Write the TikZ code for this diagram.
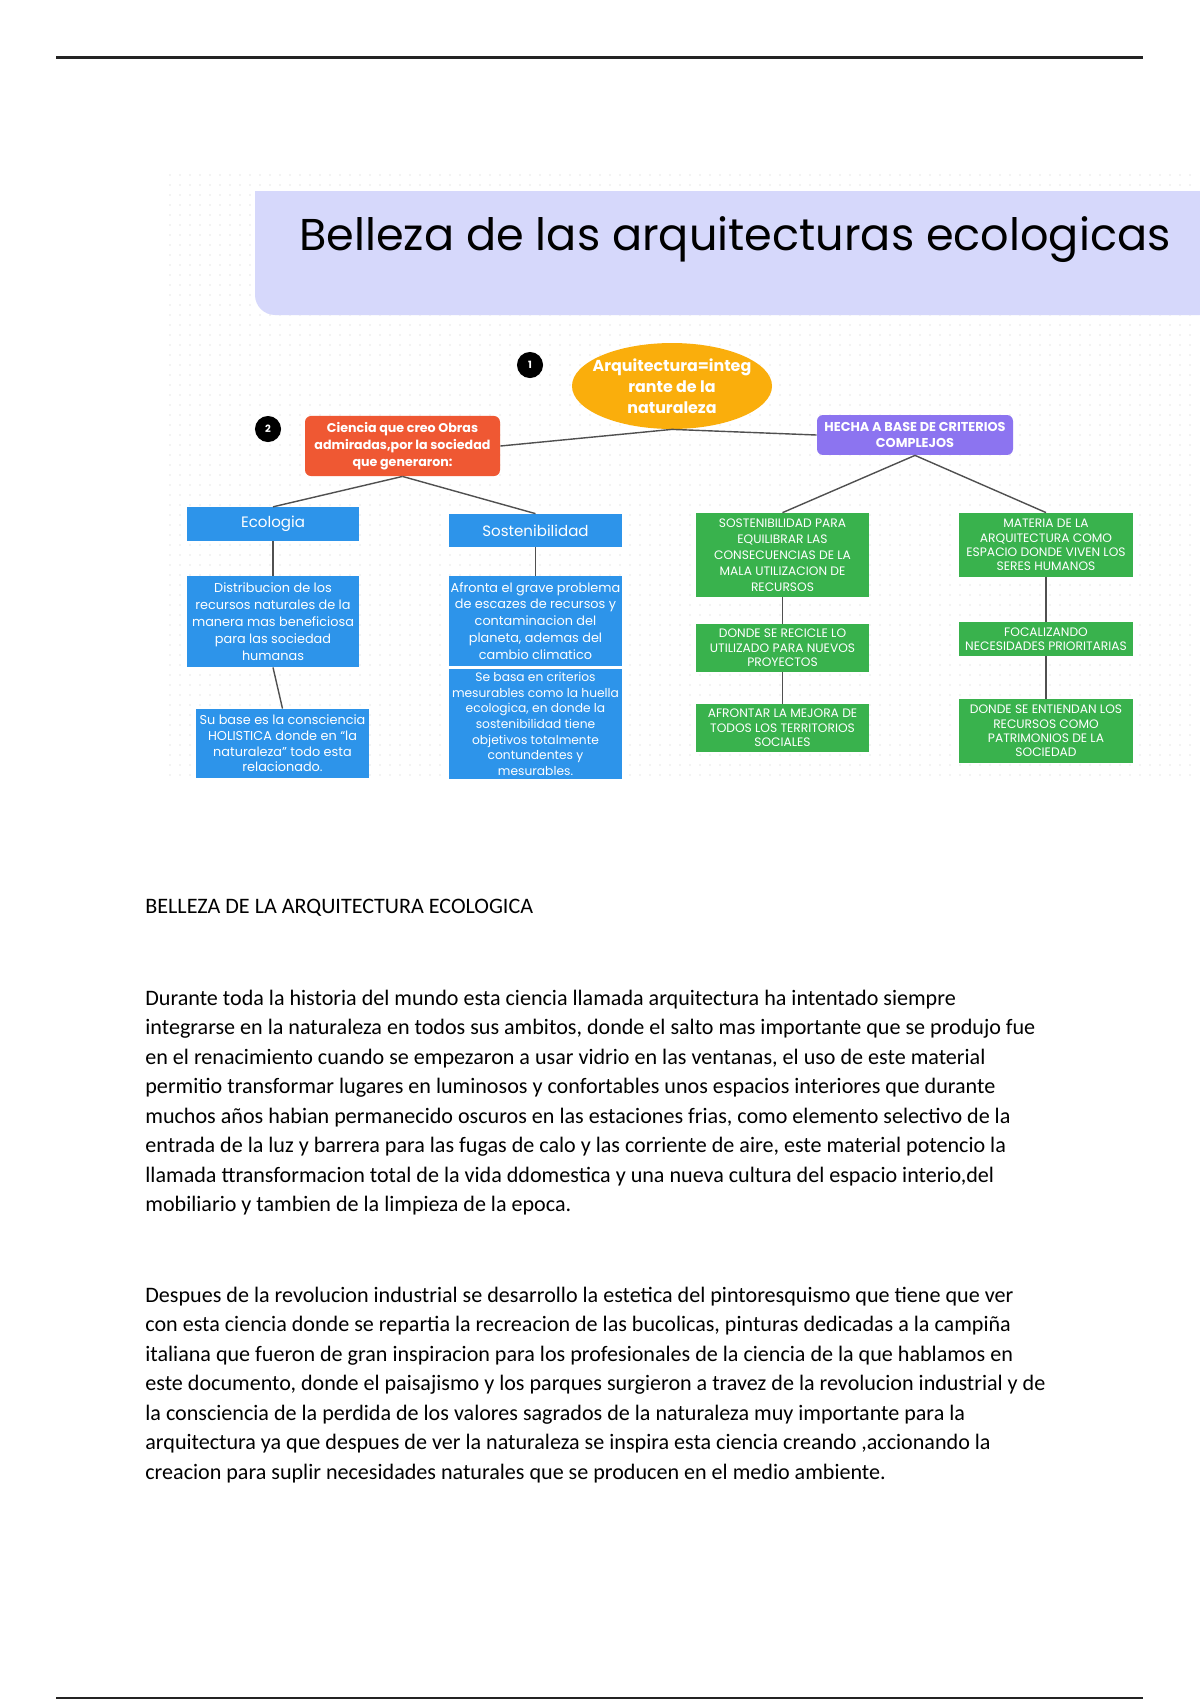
\documentclass[tikz,border=0pt]{standalone}
\usepackage{fontspec}
\setmainfont{Carlito}
\newfontfamily\mapafont{Poppins}
\usetikzlibrary{
  shapes.geometric,
  positioning
}
\definecolor{Lavanda}{RGB}{214, 216, 251}
\definecolor{Naranja}{RGB}{250, 174, 12}
\definecolor{Rojo}{RGB}{239, 88, 51}
\definecolor{Morado}{RGB}{140, 116, 240}
\definecolor{AzulMapa}{RGB}{45, 148, 234}
\definecolor{VerdeMapa}{RGB}{57, 178, 77}
\definecolor{GrisLinea}{RGB}{80, 80, 80}
\definecolor{Regla}{RGB}{35, 35, 35}
\tikzset{
    caja/.style={rectangle, inner sep=0pt, align=center, text=white},
    azul/.style={caja, fill=AzulMapa, minimum width=86.1pt, font=\mapafont\fontsize{6.4}{8.4}\selectfont},
    azultitulo/.style={caja, fill=AzulMapa, minimum width=86.1pt, minimum height=16.7pt,
        font=\mapafont\fontsize{7.5}{9}\selectfont},
    verde/.style={caja, fill=VerdeMapa, minimum width=86.3pt, font=\mapafont\fontsize{6.1}{7.2}\selectfont},
    enlace/.style={draw=GrisLinea, line width=0.7pt},
    numero/.style={circle, fill=black, text=white, inner sep=0pt, minimum size=13pt,
        font=\mapafont\bfseries\fontsize{5}{5}\selectfont}
}

\begin{document}
\begin{tikzpicture}[x=0.0175cm, y=-0.0175cm]
    \useasboundingbox (0,0) rectangle (1200,1700);
    \fill[white] (0,0) rectangle (1200,1700);
    % page rules
    \draw[line width=1.2pt, Regla] (56,57.5) -- (1143,57.5);
    \draw[line width=1.2pt, Regla] (56,1698) -- (1143,1698);

    \begin{scope}
    \clip (0,0) rectangle (1200,779);
    % dotted canvas of the map
    \foreach \x in {170,180,...,1190}
        \foreach \y in {175,185,...,775}
            \fill[black!9] (\x,\y) circle (0.45pt);
    % title band
    \fill[Lavanda] (1200,191) -- (255,191) [rounded corners=10pt] -- (255,315) [sharp corners] -- (1200,315) -- cycle;
    \node[anchor=base west, inner sep=0pt, font=\mapafont\fontsize{22.2}{26}\selectfont] (titulo) at (299,250)
        {Belleza de las arquitecturas ecologicas};

    % map
    \node[ellipse, fill=Naranja, minimum width=99.6pt, minimum height=42.8pt, inner sep=0pt] (arq) at (672,386) {};
    \node[align=center, inner sep=0pt, text=white, font=\mapafont\bfseries\fontsize{7.9}{10.5}\selectfont]
        (arqtexto) at (arq.center) {Arquitectura=integ\\rante de la\\naturaleza};
    \node[numero] (uno) at (530,365) {1};
    \node[numero] (dos) at (268,429) {2};
    \node[caja, fill=Rojo, rounded corners=3pt, minimum width=97.1pt, minimum height=29.9pt,
        font=\mapafont\bfseries\fontsize{6.3}{8.5}\selectfont] (ciencia) at (402.5,446)
        {Ciencia que creo Obras\\admiradas,por la sociedad\\que generaron:};
    \node[caja, fill=Morado, rounded corners=3pt, minimum width=97.6pt, minimum height=19.9pt,
        font=\mapafont\bfseries\fontsize{6.4}{7.8}\selectfont] (hecha) at (915,435)
        {HECHA A BASE DE CRITERIOS\\COMPLEJOS};

    \node[azultitulo] (eco) at (273,524) {Ecologia};
    \node[azultitulo, minimum height=16.4pt] (sost) at (535.5,530.5) {Sostenibilidad};
    \node[azul, minimum height=45.3pt] (ecoA) at (273,621.5)
        {Distribucion de los\\recursos naturales de la\\manera mas beneficiosa\\para las sociedad\\humanas};
    \node[azul, minimum height=34.4pt, font=\mapafont\fontsize{6.4}{7.8}\selectfont] (ecoB) at (282.5,743.5)
        {Su base es la consciencia\\HOLISTICA donde en “la\\naturaleza” todo esta\\relacionado.};
    \node[azul, minimum height=44.8pt] (sostA) at (535.5,621)
        {Afronta el grave problema\\de escazes de recursos y\\contaminacion del\\planeta, ademas del\\cambio climatico};
    \node[azul, minimum height=54.8pt, font=\mapafont\fontsize{6.1}{7.8}\selectfont] (sostB) at (535.5,724)
        {Se basa en criterios\\mesurables como la huella\\ecologica, en donde la\\sostenibilidad tiene\\objetivos totalmente\\contundentes y\\mesurables.};

    \node[verde, minimum height=41.8pt, font=\mapafont\fontsize{6.1}{8}\selectfont] (verdeA) at (782.5,555)
        {SOSTENIBILIDAD PARA\\EQUILIBRAR LAS\\CONSECUENCIAS DE LA\\MALA UTILIZACION DE\\RECURSOS};
    \node[verde, minimum height=23.9pt] (verdeB) at (782.5,648)
        {DONDE SE RECICLE LO\\UTILIZADO PARA NUEVOS\\PROYECTOS};
    \node[verde, minimum height=23.9pt] (verdeC) at (782.5,728)
        {AFRONTAR LA MEJORA DE\\TODOS LOS TERRITORIOS\\SOCIALES};
    \node[verde, minimum height=31.9pt] (verdeD) at (1046,545)
        {MATERIA DE LA\\ARQUITECTURA COMO\\ESPACIO DONDE VIVEN LOS\\SERES HUMANOS};
    \node[verde, minimum height=16.9pt] (verdeE) at (1046,639)
        {FOCALIZANDO\\NECESIDADES PRIORITARIAS};
    \node[verde, minimum height=31.9pt] (verdeF) at (1046,731)
        {DONDE SE ENTIENDAN LOS\\RECURSOS COMO\\PATRIMONIOS DE LA\\SOCIEDAD};

    % connectors
    \draw[enlace] (ciencia.east) -- (arq.south) -- (hecha.west);
    \draw[enlace] (ciencia.south) -- (eco.north);
    \draw[enlace] (ciencia.south) -- (sost.north);
    \draw[enlace] (eco.south) -- (ecoA.north);
    \draw[enlace] (ecoA.south) -- (ecoB.north);
    \draw[enlace] (sost.south) -- (sostA.north);
    \draw[enlace] (hecha.south) -- (verdeA.north);
    \draw[enlace] (hecha.south) -- (verdeD.north);
    \draw[enlace] (verdeA.south) -- (verdeB.north);
    \draw[enlace] (verdeB.south) -- (verdeC.north);
    \draw[enlace] (verdeD.south) -- (verdeE.north);
    \draw[enlace] (verdeE.south) -- (verdeF.north);
    \end{scope}

    % text of the page
    \node[anchor=base west, inner sep=0pt, font=\fontsize{11}{14.7}\selectfont] (encabezado) at (145,913)
        {BELLEZA DE LA ARQUITECTURA ECOLOGICA};
    \node[anchor=north west, inner sep=0pt, align=left, font=\fontsize{11}{14.7}\selectfont] (parrafoA) at (145,989.5)
        {Durante toda la historia del mundo esta ciencia llamada arquitectura ha intentado siempre\\
        integrarse en la naturaleza en todos sus ambitos, donde el salto mas importante que se produjo fue\\
        en el renacimiento cuando se empezaron a usar vidrio en las ventanas, el uso de este material\\
        permitio transformar lugares en luminosos y confortables unos espacios interiores que durante\\
        muchos años habian permanecido oscuros en las estaciones frias, como elemento selectivo de la\\
        entrada de la luz y barrera para las fugas de calo y las corriente de aire, este material potencio la\\
        llamada ttransformacion total de la vida ddomestica y una nueva cultura del espacio interio,del\\
        mobiliario y tambien de la limpieza de la epoca.};
    \node[anchor=north west, inner sep=0pt, align=left, font=\fontsize{11}{14.7}\selectfont] (parrafoB) at (145,1286.5)
        {Despues de la revolucion industrial se desarrollo la estetica del pintoresquismo que tiene que ver\\
        con esta ciencia donde se repartia la recreacion de las bucolicas, pinturas dedicadas a la campiña\\
        italiana que fueron de gran inspiracion para los profesionales de la ciencia de la que hablamos en\\
        este documento, donde el paisajismo y los parques surgieron a travez de la revolucion industrial y de\\
        la consciencia de la perdida de los valores sagrados de la naturaleza muy importante para la\\
        arquitectura ya que despues de ver la naturaleza se inspira esta ciencia creando ,accionando la\\
        creacion para suplir necesidades naturales que se producen en el medio ambiente.};
\end{tikzpicture}
\end{document}
